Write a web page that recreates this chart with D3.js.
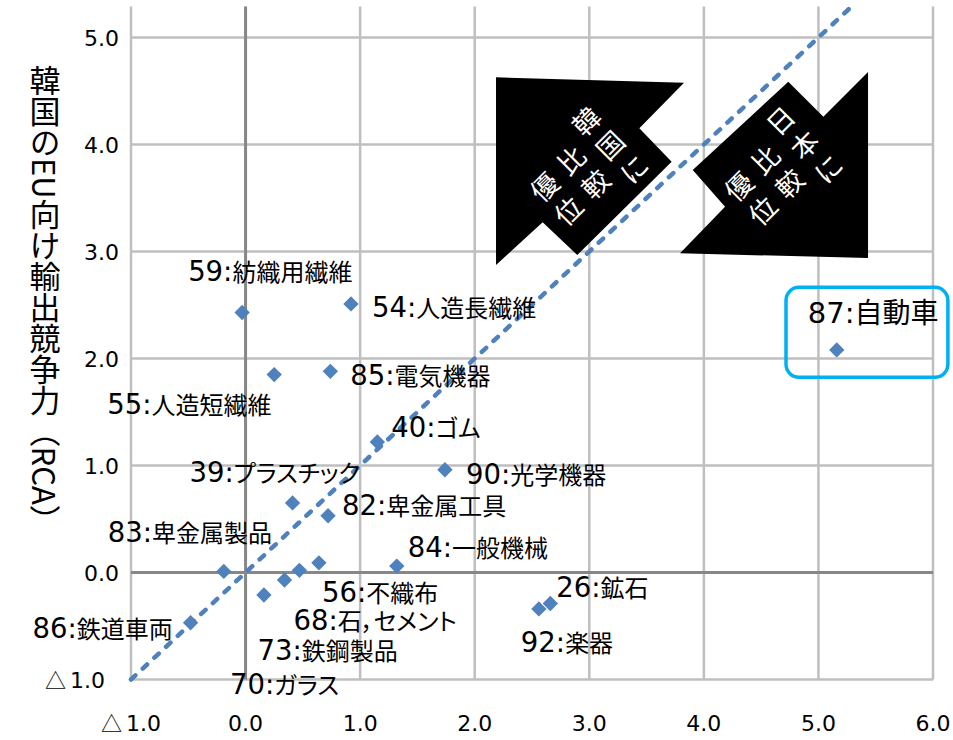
<!DOCTYPE html>
<html><head><meta charset="utf-8">
<script src="https://cdn.jsdelivr.net/npm/d3@7"></script>
<style>
html,body{margin:0;padding:0;background:#fff;}
svg{display:block;}
.cjk{font-feature-settings:"palt";}
</style></head>
<body>
<script>
// ---- data ----
const codes = ["59","54","55","85","40","90","39","82","83","84","56","68","73","70","86","26","92","87"];
const names = ["紡織用繊維","人造長繊維","人造短繊維","電気機器","ゴム","光学機器","プラスチック","卑金属工具","卑金属製品","一般機械","不織布","石，セメント","鉄鋼製品","ガラス","鉄道車両","鉱石","楽器","自動車"];
const japanRCA = [-0.03,0.92,0.25,0.74,1.15,1.74,0.41,0.72,-0.19,1.32,0.64,0.47,0.34,0.16,-0.48,2.66,2.56,5.16];
const koreaRCA = [2.43,2.51,1.85,1.88,1.22,0.96,0.65,0.53,0.01,0.06,0.09,0.02,-0.07,-0.21,-0.47,-0.29,-0.34,2.08];
const xTicks = [-1,0,1,2,3,4,5,6];
const yTicks = [-1,0,1,2,3,4,5];
const yTitle = "韓国のEU向け輸出競争力（RCA）";
const arrowTexts = [["韓国に","比較","優位"],["日本に","比較","優位"]];

// ---- layout (pixels / styles) ----
const W = 953, H = 740;
const labelOffsets = [[-54,-31],[21,13],[-167,39],[20,14],[14,-5],[21,14],[-103,-21],[14,-1],[-116,-29],[11,-9],[3,39],[-6,60],[-27,80],[-34,99],[-158,15],[6,-7],[-18,43],[-29,-27]];
const blue = "#4F81BD";

const svg = d3.select("body").append("svg").attr("width",W).attr("height",H);
const x = d3.scaleLinear().domain([-1,6]).range([131,933]);
const y = d3.scaleLinear().domain([-1,5]).range([679.5,37.5]);
const yTopVal = 5.29;

// grid
const g = svg.append("g");
g.selectAll(".vg").data(xTicks).join("line")
  .attr("x1",d=>x(d)).attr("x2",d=>x(d)).attr("y1",y(-1)).attr("y2",y(yTopVal))
  .attr("stroke","#BFBFBF").attr("stroke-width",2.5);
g.selectAll(".hg").data(yTicks).join("line")
  .attr("x1",x(-1)).attr("x2",x(6)).attr("y1",d=>y(d)).attr("y2",d=>y(d))
  .attr("stroke","#BFBFBF").attr("stroke-width",2.5);
g.append("line").attr("x1",x(0)).attr("x2",x(0)).attr("y1",y(-1)).attr("y2",y(yTopVal)).attr("stroke","#878787").attr("stroke-width",3);
g.append("line").attr("x1",x(-1)).attr("x2",x(6)).attr("y1",y(0)).attr("y2",y(0)).attr("stroke","#878787").attr("stroke-width",3);

// tick labels
function tickText(sel){
  sel.each(function(d){
    const t = d3.select(this);
    if(d<0){ t.append("tspan").attr("font-family","Noto Sans CJK JP").attr("font-size",21).text("△"); }
    t.append("tspan").attr("dx",d<0?4:0).text(Math.abs(d).toFixed(1));
  });
}
svg.append("g").selectAll("text").data(yTicks).join("text")
  .attr("x",d=>d<0?105:119).attr("y",d=>y(d)+8)
  .attr("text-anchor","end").attr("font-family","DejaVu Sans").attr("font-size",22).attr("fill","#000")
  .call(tickText);
svg.append("g").selectAll("text").data(xTicks).join("text")
  .attr("x",d=>x(d)).attr("y",731)
  .attr("text-anchor","middle").attr("font-family","DejaVu Sans").attr("font-size",22).attr("fill","#000")
  .call(tickText);

// y title (vertical writing)
svg.append("text").attr("x",45).attr("y",65)
  .attr("style","writing-mode: vertical-rl;")
  .attr("font-family","Noto Sans CJK JP").attr("font-size",31).attr("fill","#000")
  .text(yTitle);

// diagonal y=x
const diagEnd = 5.32;
svg.append("line").attr("x1",x(-1)).attr("y1",y(-1)).attr("x2",x(diagEnd)).attr("y2",y(diagEnd))
  .attr("stroke",blue).attr("stroke-width",4.5).attr("stroke-dasharray","6,10").attr("stroke-linecap","round");

// arrows (vertices in data units)
const arrow1 = [[2.186,4.628],[3.827,4.578],[3.437,4.151],[3.719,3.839],[2.895,2.967],[2.593,3.273],[2.186,2.874]];
const arrow2 = [[4.737,4.587],[5.043,4.260],[5.433,4.678],[5.433,2.939],[3.792,2.983],[4.185,3.419],[3.903,3.762]];
const arrowCenters = [[2.941,3.750],[4.636,3.754]];
[arrow1,arrow2].forEach(a=>{
  svg.append("polygon").attr("points",a.map(p=>x(p[0])+","+y(p[1])).join(" ")).attr("fill","#000");
});
arrowTexts.forEach((cols,i)=>{
  const c = arrowCenters[i];
  const tg = svg.append("g").attr("transform",`translate(${x(c[0])},${y(c[1])}) rotate(-45)`);
  const colStep = 38, charStep = 34;
  cols.forEach((col,ci)=>{
    const chars = Array.from(col);
    chars.forEach((ch,k)=>{
      tg.append("text").attr("x",-(ci-1)*colStep).attr("y",(k-(chars.length-1)/2)*charStep)
        .attr("text-anchor","middle").attr("dominant-baseline","central")
        .attr("font-family","Noto Sans CJK JP").attr("font-size",27).attr("fill","#fff").text(ch);
    });
  });
});

// highlight box around 87
const hb = {x0:4.717,x1:6.13,y0:2.665,y1:1.824};
svg.append("rect").attr("x",x(hb.x0)).attr("y",y(hb.y0)).attr("width",x(hb.x1)-x(hb.x0)).attr("height",y(hb.y1)-y(hb.y0))
  .attr("rx",13).attr("ry",13).attr("fill","none").attr("stroke","#00B0F0").attr("stroke-width",3.5);

// points
const pts = codes.map((c,i)=>({code:c,name:names[i],x:japanRCA[i],y:koreaRCA[i],off:labelOffsets[i]}));
const sym = d3.symbol().type(d3.symbolDiamond2).size(150);
svg.append("g").selectAll("path").data(pts).join("path")
  .attr("transform",d=>`translate(${x(d.x)},${y(d.y)})`).attr("d",sym).attr("fill",blue);

// labels
const lab = svg.append("g").selectAll("text").data(pts).join("text")
  .attr("x",d=>x(d.x)+d.off[0]).attr("y",d=>y(d.y)+d.off[1]).attr("fill","#000");
lab.append("tspan").attr("font-family","DejaVu Sans").attr("font-size",d=>d.code==="87"?29:27.5).text(d=>d.code+":");
lab.append("tspan").attr("class","cjk").attr("font-family","Noto Sans CJK JP").attr("font-size",d=>d.code==="87"?28:24).text(d=>d.name);
</script>
</body></html>
